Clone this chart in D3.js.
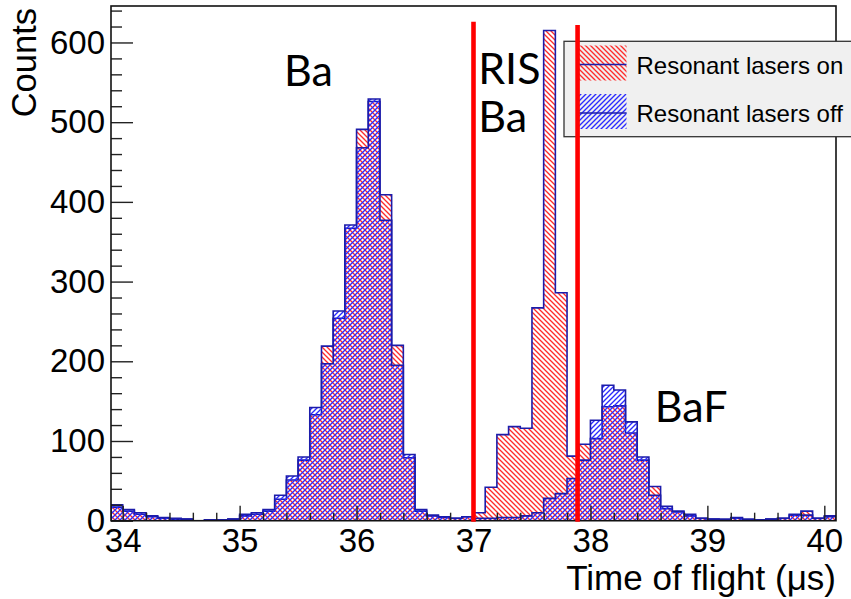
<!DOCTYPE html>
<html>
<head>
<meta charset="utf-8">
<script src="https://cdn.jsdelivr.net/npm/d3@7"></script>
<style>
  html, body { margin: 0; padding: 0; background: #ffffff; }
  svg { display: block; }
</style>
</head>
<body>
<svg id="chart" width="851" height="599"></svg>
<script>
// Time-of-flight histogram: 0.1 µs bins from 33.9 to 40.1 µs
const binEdges = [
  33.9, 34.0, 34.1, 34.2, 34.3, 34.4, 34.5, 34.6, 34.7, 34.8,
  34.9, 35.0, 35.1, 35.2, 35.3, 35.4, 35.5, 35.6, 35.7, 35.8,
  35.9, 36.0, 36.1, 36.2, 36.3, 36.4, 36.5, 36.6, 36.7, 36.8,
  36.9, 37.0, 37.1, 37.2, 37.3, 37.4, 37.5, 37.6, 37.7, 37.8,
  37.9, 38.0, 38.1, 38.2, 38.3, 38.4, 38.5, 38.6, 38.7, 38.8,
  38.9, 39.0, 39.1, 39.2, 39.3, 39.4, 39.5, 39.6, 39.7, 39.8,
  39.9, 40.0, 40.1
];

// Counts per bin, resonant lasers on
const countsLasersOn = [
  17, 12, 8, 5, 3, 2, 2, 0, 1, 1,
  2, 6, 8, 12, 27, 51, 76, 133, 219, 254,
  367, 491, 526, 409, 220, 79, 12, 6, 4, 3,
  5, 10, 42, 108, 118, 116, 267, 615, 286, 81,
  96, 103, 143, 144, 110, 76, 43, 15, 11, 6,
  3, 2, 1, 3, 1, 1, 2, 3, 7, 12,
  3, 6
];

// Counts per bin, resonant lasers off
const countsLasersOff = [
  20, 14, 10, 6, 4, 3, 2, 0, 1, 1,
  2, 8, 10, 14, 32, 56, 80, 142, 197, 263,
  371, 468, 529, 377, 195, 83, 14, 7, 5, 3,
  5, 3, 3, 4, 4, 6, 10, 28, 34, 53,
  76, 126, 170, 164, 124, 80, 32, 18, 12, 8,
  3, 2, 2, 4, 2, 1, 2, 3, 8, 7,
  3, 5
];

const legendLabels = ["Resonant lasers on", "Resonant lasers off"];
const xMajorTicks = [34, 35, 36, 37, 38, 39, 40];
const yMajorTicks = [0, 100, 200, 300, 400, 500, 600];
const cutLines = [37.0, 37.89];          // RIS gate (µs)
const cutLineTops = [626, 622];          // counts where the gate lines end
const peakLabels = [
  { text: "Ba",  t: 35.38, c: 545 },
  { text: "RIS", t: 37.04, c: 548 },
  { text: "Ba",  t: 37.04, c: 488 },
  { text: "BaF", t: 38.55, c: 124 }
];

const svg = d3.select("#chart");
const frame = { left: 111, right: 836, top: 6, bottom: 520.7 };

const x = d3.scaleLinear().domain([33.9, 40.1]).range([frame.left, frame.right]);
const y = d3.scaleLinear().domain([0, 645.75]).range([frame.bottom, frame.top]);

// diagonal hatch patterns
const defs = svg.append("defs");
function hatch(id, color, backslash) {
  const s = 5;
  const p = defs.append("pattern")
    .attr("id", id)
    .attr("patternUnits", "userSpaceOnUse")
    .attr("width", s).attr("height", s);
  const d = backslash
    ? `M0,0 L${s},${s} M${-s},0 L0,${s} M${s},${-s} L${2 * s},0 M${-1},${s - 1} L1,${s + 1} M${s - 1},-1 L${s + 1},1`
    : `M0,${s} L${s},0 M${-1},1 L1,-1 M${s - 1},${s + 1} L${s + 1},${s - 1}`;
  p.append("path").attr("d", d)
    .attr("stroke", color).attr("stroke-width", 1.35).attr("fill", "none");
}
hatch("hatchOn", "#ff2a2a", true);
hatch("hatchOff", "#2a2aff", false);

defs.append("clipPath").attr("id", "plotClip")
  .append("rect")
  .attr("x", frame.left).attr("y", frame.top)
  .attr("width", frame.right - frame.left).attr("height", frame.bottom - frame.top);

const plot = svg.append("g").attr("clip-path", "url(#plotClip)");

function stepPoints(counts) {
  return binEdges.map((e, i) => [e, counts[Math.min(i, counts.length - 1)]]);
}
const area = d3.area()
  .x(d => x(d[0])).y0(y(0)).y1(d => y(d[1]))
  .curve(d3.curveStepAfter);
const outline = d3.line()
  .x(d => x(d[0])).y(d => y(d[1]))
  .curve(d3.curveStepAfter);

function drawHist(counts, patternId) {
  const pts = stepPoints(counts);
  plot.append("path").attr("d", area(pts)).attr("fill", `url(#${patternId})`);
  const line = [[binEdges[0], 0], ...pts, [binEdges[binEdges.length - 1], 0]];
  plot.append("path").attr("d", outline(line))
    .attr("fill", "none").attr("stroke", "#1c1caa").attr("stroke-width", 1.6);
}
drawHist(countsLasersOn, "hatchOn");
drawHist(countsLasersOff, "hatchOff");

// axes
const axisFont = "'Liberation Sans', Arial, Helvetica, sans-serif";
const yMinor = d3.range(0, 641, 20).filter(v => v % 100 !== 0);
const xMinor = d3.range(34, 40.05, 0.2).map(v => +v.toFixed(1)).filter(v => Math.abs(v - Math.round(v)) > 1e-6);

svg.append("g").attr("transform", `translate(${frame.left},0)`)
  .call(d3.axisLeft(y).tickValues(yMinor).tickSizeInner(-11).tickSizeOuter(0).tickFormat(""))
  .call(g => g.select(".domain").remove())
  .call(g => g.selectAll("line").attr("stroke", "#222").attr("stroke-width", 1.4));

svg.append("g").attr("transform", `translate(${frame.left},0)`)
  .call(d3.axisLeft(y).tickValues(yMajorTicks).tickSizeInner(-22).tickSizeOuter(0).tickPadding(6).tickFormat(d3.format("d")))
  .call(g => g.select(".domain").remove())
  .call(g => g.selectAll("line").attr("stroke", "#222").attr("stroke-width", 1.4))
  .call(g => g.selectAll("text").attr("font-family", axisFont).attr("font-size", 33).attr("fill", "#000"));

svg.append("g").attr("transform", `translate(0,${frame.bottom})`)
  .call(d3.axisBottom(x).tickValues(xMinor).tickSizeInner(-8).tickSizeOuter(0).tickFormat(""))
  .call(g => g.select(".domain").remove())
  .call(g => g.selectAll("line").attr("stroke", "#222").attr("stroke-width", 1.4));

svg.append("g").attr("transform", `translate(0,${frame.bottom})`)
  .call(d3.axisBottom(x).tickValues(xMajorTicks).tickSizeInner(-15).tickSizeOuter(0).tickPadding(8).tickFormat(d3.format("d")))
  .call(g => g.select(".domain").remove())
  .call(g => g.selectAll("line").attr("stroke", "#222").attr("stroke-width", 1.4))
  .call(g => g.selectAll("text").attr("font-family", axisFont).attr("font-size", 33).attr("fill", "#000"));

// frame
svg.append("rect")
  .attr("x", frame.left).attr("y", frame.top)
  .attr("width", frame.right - frame.left).attr("height", frame.bottom - frame.top)
  .attr("fill", "none").attr("stroke", "#111").attr("stroke-width", 1.6);

// axis titles
svg.append("text")
  .attr("x", frame.right).attr("y", 590)
  .attr("text-anchor", "end")
  .attr("font-family", axisFont).attr("font-size", 35)
  .text("Time of flight (\u03bcs)");

svg.append("text")
  .attr("transform", `translate(36,8) rotate(-90)`)
  .attr("text-anchor", "end")
  .attr("font-family", axisFont).attr("font-size", 34.5)
  .text("Counts");

// legend
const legend = svg.append("g");
legend.append("rect")
  .attr("x", 564).attr("y", 41.3).attr("width", 300).attr("height", 95.4)
  .attr("fill", "#f0f0f0").attr("stroke", "#333").attr("stroke-width", 1.3);
const legendPatterns = ["hatchOn", "hatchOff"];
legendLabels.forEach((label, i) => {
  const cy = 63.5 + i * 48.5;
  legend.append("rect")
    .attr("x", 578.5).attr("y", cy - 18).attr("width", 48).attr("height", 35)
    .attr("fill", `url(#${legendPatterns[i]})`);
  legend.append("line")
    .attr("x1", 578.5).attr("x2", 626.5).attr("y1", cy + 1).attr("y2", cy + 1)
    .attr("stroke", "#1c1caa").attr("stroke-width", 1.6);
  legend.append("text")
    .attr("x", 636.5).attr("y", cy + 10)
    .attr("font-family", axisFont).attr("font-size", 24)
    .text(label);
});

// RIS gate lines
svg.selectAll("line.cut").data(cutLines).enter().append("line")
  .attr("class", "cut")
  .attr("x1", d => x(d)).attr("x2", d => x(d))
  .attr("y1", (d, i) => y(cutLineTops[i])).attr("y2", y(0) + 1)
  .attr("stroke", "#ff0000").attr("stroke-width", 4.6);

// peak annotations
svg.selectAll("text.peak").data(peakLabels).enter().append("text")
  .attr("class", "peak")
  .attr("x", d => x(d.t)).attr("y", d => y(d.c))
  .attr("font-family", "Lato, 'Open Sans', sans-serif").attr("font-size", 43)
  .attr("fill", "#000")
  .text(d => d.text);
</script>
</body>
</html>
